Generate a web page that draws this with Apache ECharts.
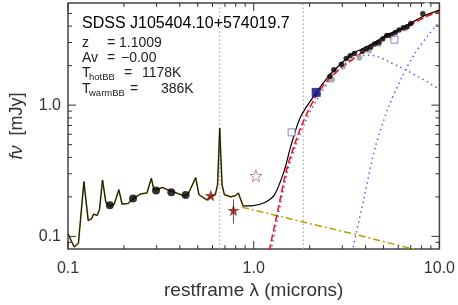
<!DOCTYPE html>
<html><head><meta charset="utf-8">
<script src="https://cdn.jsdelivr.net/npm/echarts@6/dist/echarts.min.js"></script>
<style>html,body{margin:0;padding:0;background:#fff}#c{width:458px;height:305px}</style>
</head><body><div id="c"></div>
<script>
// ---- data ----
const specWave = [0.100,0.1079,0.1138,0.1218,0.1285,0.1337,0.1375,0.1433,0.1479,0.1534,0.160,0.1684,0.1774,0.1879,0.1955,0.2102,0.228,0.247,0.266,0.281,0.290,0.298,0.323,0.343,0.364,0.395,0.425,0.446,0.487,0.507,0.557,0.587,0.621,0.639,0.656,0.675,0.695,0.754,0.801,0.827,0.875];
const specFlux = [0.105,0.083,0.0887,0.261,0.132,0.136,0.148,0.144,0.161,0.269,0.181,0.171,0.176,0.227,0.176,0.178,0.197,0.211,0.214,0.277,0.227,0.227,0.236,0.227,0.220,0.211,0.202,0.214,0.280,0.208,0.190,0.202,0.208,0.247,0.667,0.247,0.208,0.200,0.205,0.214,0.171];

const modelWave = [0.875,0.976,1.147,1.295,1.462,1.585,1.789,2.172,2.574,2.904,3.414,4.178,5.117,6.012,7.063,8.30,10.0];
const modelFlux = [0.171,0.171,0.181,0.208,0.319,0.489,0.815,1.248,1.705,2.023,2.469,2.844,3.373,3.738,4.238,4.80,5.30];

const redWave = [1.19,1.218,1.349,1.492,1.649,1.827,2.146,2.574,3.556,5.117,7.063,8.30,10.0];
const redFlux = [0.065,0.080,0.157,0.310,0.489,0.72,1.146,1.612,2.334,3.28,4.12,4.65,5.2];

const hotWave = [1.20,1.244,1.371,1.52,1.683,1.90,2.19,2.574,2.904,3.28,3.70,4.178,4.72,5.32,6.0,6.79,7.7,8.65,10.0];
const hotFlux = [0.065,0.080,0.157,0.310,0.489,0.75,1.107,1.559,1.911,2.203,2.345,2.40,2.327,2.143,1.98,1.816,1.64,1.50,1.314];

const warmWave = [3.30,3.414,3.93,4.53,5.32,6.25,7.36,8.65,9.75,10.0];
const warmFlux = [0.064,0.080,0.198,0.489,0.966,1.612,2.469,3.373,4.12,4.3];

const plWave = [0.865,1.85,3.483,7.21,8.0];
const plFlux = [0.167,0.1285,0.104,0.080,0.077];

const refLines = [0.656,1.85];

const photWave = [0.168,0.224,0.298,0.360,0.430];
const photFlux = [0.173,0.194,0.224,0.217,0.207];

const irWave = [2.574,2.70,2.965,3.15,3.306,3.483,3.854,4.045,4.266,4.478,4.72,4.95,5.21,5.47,5.78,6.06,6.39,6.70,7.01,8.14];
const irFlux = [1.66,1.858,2.048,2.27,2.374,2.469,2.569,2.69,2.77,2.929,3.015,3.19,3.386,3.414,3.575,3.738,3.89,3.96,4.19,4.97];

const grayWave = [2.636,3.025,3.70,4.178,4.72,5.54,6.52];
const grayFlux = [1.559,1.968,2.295,2.612,2.929,3.34,3.83];

const openCircWave = [7.21,7.66,8.55];
const openCircFlux = [4.89,5.03,5.70];

const redStarWave = [0.587,0.778];
const redStarFlux = [0.205,0.158];
const starErrLow = 0.125, starErrHigh = 0.191;

const openStarWave = [1.028];
const openStarFlux = [0.289];

const blueSqWave = [2.17];
const blueSqFlux = [1.25];

const openSqWave = [1.60,5.72];
const openSqFlux = [0.62,3.15];

const xMinorTicks = [0.2,0.3,0.4,0.5,0.6,0.7,0.8,0.9,2,3,4,5,6,7,8,9];
const xMajorTicks = [0.1,1,10];
const yMinorTicks = [0.09,0.2,0.3,0.4,0.5,0.6,0.7,0.8,0.9,2,3,4,5];
const yMajorTicks = [0.1,1];

const X_MIN = 0.1, X_MAX = 10, Y_MIN = 0.08, Y_MAX = 6;

// ---- chart ----
const zip = (a, b) => a.map((v, i) => [v, b[i]]);
const STAR = 'path://M50,0 L61.8,35.1 L98.1,35.1 L68.8,56.7 L79.4,90.9 L50,69.5 L20.6,90.9 L31.2,56.7 L1.9,35.1 L38.2,35.1 Z';
const FONT = '"Liberation Sans", Arial, sans-serif';
const fmt = v => {
  if (Math.abs(v / 0.1 - 1) < 1e-6) return '0.1';
  if (Math.abs(v - 1) < 1e-6) return '1.0';
  if (Math.abs(v / 10 - 1) < 1e-6) return '10.0';
  return '';
};

function tickSeries(values, dir, len) {
  return {
    type: 'custom', silent: true, z: 20, clip: false, animation: false,
    data: values.map(v => dir === 'x' ? [v, 1] : [1, v]),
    renderItem: (params, api) => {
      const st = { stroke: '#333', lineWidth: 1 };
      if (dir === 'x') {
        const v = api.value(0);
        const b = api.coord([v, Y_MIN]), t = api.coord([v, Y_MAX]);
        return { type: 'group', children: [
          { type: 'line', shape: { x1: b[0], y1: b[1], x2: b[0], y2: b[1] - len }, style: st },
          { type: 'line', shape: { x1: t[0], y1: t[1], x2: t[0], y2: t[1] + len }, style: st }
        ]};
      } else {
        const v = api.value(1);
        const l = api.coord([X_MIN, v]), r = api.coord([X_MAX, v]);
        return { type: 'group', children: [
          { type: 'line', shape: { x1: l[0], y1: l[1], x2: l[0] + len, y2: l[1] }, style: st },
          { type: 'line', shape: { x1: r[0], y1: r[1], x2: r[0] - len, y2: r[1] }, style: st }
        ]};
      }
    }
  };
}

const lineS = (data, color, width, type, z, smooth) => ({
  type: 'line', data, showSymbol: false, symbol: 'none', smooth: smooth || false,
  lineStyle: { color, width, type }, z, silent: true, animation: false, clip: true
});

const chart = echarts.init(document.getElementById('c'));
const option = {
  animation: false,
  backgroundColor: '#fff',
  grid: { left: 60, right: 18, top: 3, bottom: 49, show: true, borderColor: '#444', borderWidth: 1.5, backgroundColor: 'transparent' },
  xAxis: {
    type: 'log', logBase: 10, min: X_MIN, max: X_MAX,
    axisLine: { show: false }, axisTick: { show: false }, splitLine: { show: false },
    axisLabel: { formatter: fmt, color: '#333', fontSize: 16, fontFamily: FONT, margin: 11, showMinLabel: true, showMaxLabel: true },
    name: 'restframe λ (microns)', nameLocation: 'middle', nameGap: 31,
    nameTextStyle: { color: '#333', fontSize: 19, fontFamily: FONT }
  },
  yAxis: {
    type: 'log', logBase: 10, min: Y_MIN, max: Y_MAX,
    axisLine: { show: false }, axisTick: { show: false }, splitLine: { show: false },
    axisLabel: { formatter: fmt, color: '#333', fontSize: 16, fontFamily: FONT, margin: 7 },
    name: '{i|fν}  [mJy]', nameLocation: 'middle', nameGap: 42, nameRotate: 90,
    nameTextStyle: { color: '#333', fontSize: 18, fontFamily: FONT, rich: { i: { fontStyle: 'italic', fontSize: 18, fontFamily: FONT, color: '#333' } } }
  },
  graphic: [
    { type: 'text', x: 82, y: 24, style: { text: 'SDSS J105404.10+574019.7', font: '16px ' + FONT, fill: '#000', verticalAlign: 'middle' }, z: 100 },
    { type: 'text', x: 82, y: 43, style: { text: 'z', font: '14px ' + FONT, fill: '#222', verticalAlign: 'middle' }, z: 100 },
    { type: 'text', x: 107, y: 43, style: { text: '=', font: '14px ' + FONT, fill: '#222', verticalAlign: 'middle' }, z: 100 },
    { type: 'text', x: 119, y: 43, style: { text: '1.1009', font: '14px ' + FONT, fill: '#222', verticalAlign: 'middle' }, z: 100 },
    { type: 'text', x: 82, y: 58, style: { text: 'Av', font: '14px ' + FONT, fill: '#222', verticalAlign: 'middle' }, z: 100 },
    { type: 'text', x: 107, y: 58, style: { text: '=', font: '14px ' + FONT, fill: '#222', verticalAlign: 'middle' }, z: 100 },
    { type: 'text', x: 121, y: 58, style: { text: '−0.00', font: '14px ' + FONT, fill: '#222', verticalAlign: 'middle' }, z: 100 },
    { type: 'text', x: 82, y: 73, style: { text: 'T', font: '14px ' + FONT, fill: '#222', verticalAlign: 'middle' }, z: 100 },
    { type: 'text', x: 89, y: 77, style: { text: 'hotBB', font: '9.5px ' + FONT, fill: '#222', verticalAlign: 'middle' }, z: 100 },
    { type: 'text', x: 124, y: 73, style: { text: '=', font: '14px ' + FONT, fill: '#222', verticalAlign: 'middle' }, z: 100 },
    { type: 'text', x: 142, y: 73, style: { text: '1178K', font: '14px ' + FONT, fill: '#222', verticalAlign: 'middle' }, z: 100 },
    { type: 'text', x: 82, y: 89, style: { text: 'T', font: '14px ' + FONT, fill: '#222', verticalAlign: 'middle' }, z: 100 },
    { type: 'text', x: 89, y: 93, style: { text: 'warmBB', font: '9.5px ' + FONT, fill: '#222', verticalAlign: 'middle' }, z: 100 },
    { type: 'text', x: 130, y: 89, style: { text: '=', font: '14px ' + FONT, fill: '#222', verticalAlign: 'middle' }, z: 100 },
    { type: 'text', x: 161, y: 89, style: { text: '386K', font: '14px ' + FONT, fill: '#222', verticalAlign: 'middle' }, z: 100 }
  ],
  series: [
    ...refLines.map(v => lineS([[v, Y_MIN], [v, Y_MAX]], '#aaa', 1.2, [1.5, 2.5], 1)),
    lineS(zip(plWave, plFlux), '#b5a000', 1.5, [7, 3, 2, 3], 2),
    lineS(zip(specWave, specFlux), '#9a8c28', 1.7, 'solid', 3),
    lineS(zip(specWave, specFlux), '#111', 1, 'solid', 4),
    lineS(zip(hotWave, hotFlux), '#5a5af0', 1.5, [1.5, 3.5], 5, 0.3),
    lineS(zip(warmWave, warmFlux), '#5a5af0', 1.5, [1.5, 3.5], 5, 0.3),
    lineS(zip(redWave, redFlux), '#ff1010', 1.6, [7, 3], 6, 0.3),
    lineS(zip(modelWave, modelFlux), '#000', 1.2, 'solid', 7, 0.3),
    lineS([[redStarWave[1], starErrLow], [redStarWave[1], starErrHigh]], '#555', 1, 'solid', 8),
    { type: 'scatter', data: zip(grayWave, grayFlux), symbol: 'circle', symbolSize: 6, itemStyle: { color: '#999' }, z: 9, silent: true },
    { type: 'scatter', data: zip(openCircWave, openCircFlux), symbol: 'emptyCircle', symbolSize: 5, itemStyle: { color: '#fff', borderColor: '#888', borderWidth: 1 }, z: 9, silent: true },
    { type: 'scatter', data: zip(irWave, irFlux), symbol: 'circle', symbolSize: 5.5, itemStyle: { color: '#000' }, z: 10, silent: true },
    { type: 'scatter', data: zip(photWave, photFlux), symbol: 'circle', symbolSize: 8, itemStyle: { color: '#000' }, z: 10, silent: true },
    { type: 'scatter', data: zip(redStarWave, redStarFlux), symbol: STAR, symbolSize: 12, itemStyle: { color: '#8b1010' }, z: 11, silent: true },
    { type: 'scatter', data: zip(openStarWave, openStarFlux), symbol: STAR, symbolSize: 12, itemStyle: { color: '#fff', borderColor: '#b07070', borderWidth: 1 }, z: 11, silent: true },
    { type: 'scatter', data: zip(blueSqWave, blueSqFlux), symbol: 'rect', symbolSize: 9, itemStyle: { color: '#0a0a80' }, z: 11, silent: true },
    { type: 'scatter', data: zip(openSqWave, openSqFlux), symbol: 'rect', symbolSize: 7, itemStyle: { color: '#fff', borderColor: '#6a6ab0', borderWidth: 1 }, z: 11, silent: true },
    tickSeries(xMinorTicks, 'x', 4),
    tickSeries(xMajorTicks, 'x', 8),
    tickSeries(yMinorTicks, 'y', 4),
    tickSeries(yMajorTicks, 'y', 8)
  ]
};
chart.setOption(option);
</script>
</body></html>
